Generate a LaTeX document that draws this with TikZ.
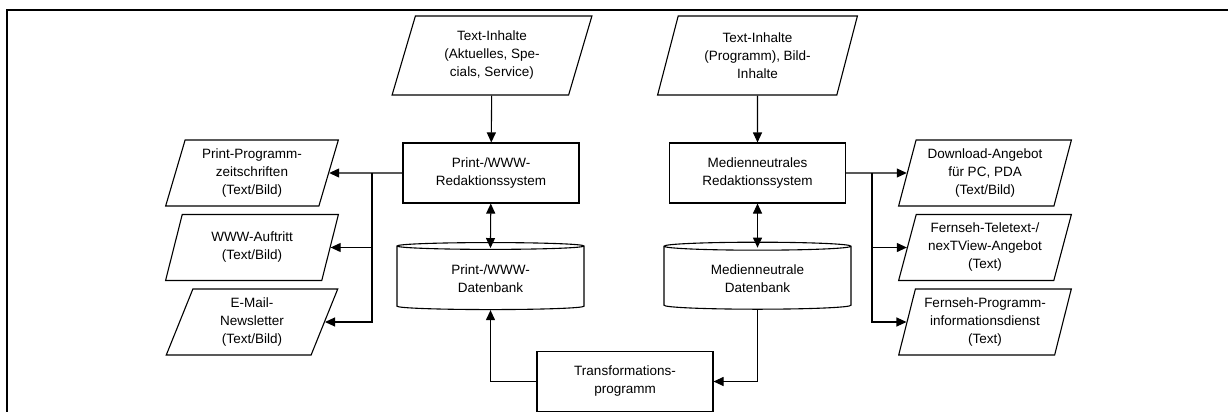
\documentclass[tikz,border=0pt]{standalone}
\usepackage{fontspec}
\setmainfont{Liberation Sans}
\usetikzlibrary{shapes.geometric, arrows.meta}

\begin{document}
\begin{tikzpicture}[x=1pt, y=-1pt, font=\fontsize{13.5}{18}\selectfont]
	\tikzstyle{para} = [trapezium, trapezium left angle=75, trapezium right angle=105, trapezium stretches=true, minimum width=173, minimum height=66, inner xsep=1pt, align=center, draw=black, line width=1.1pt]
	\tikzstyle{source} = [para, minimum width=200, minimum height=79]
	\tikzstyle{rect} = [rectangle, minimum width=176, minimum height=60, align=center, draw=black, line width=1.1pt]
	\tikzstyle{db} = [cylinder, shape border rotate=90, aspect=0.08, minimum width=187, minimum height=67, align=center, draw=black, line width=1.1pt]
	\tikzstyle{arrow} = [line width=1.1pt, ->, >={Triangle[length=10pt, width=9pt]}]

	\useasboundingbox (0,0) rectangle (1228,412);
	\draw[line width=2pt] (7,412) -- (7,10) -- (1228,10);

	% Print-/WWW-Seite
	\node (inL) at (492,55.5) [source] {Text-Inhalte\\(Aktuelles, Spe-\\cials, Service)};
	\node (redL) at (491,173) [rect] {Print-/WWW-\\Redaktionssystem};
	\node (dbL) at (490.5,278.5) [db] {Print-/WWW-\\Datenbank};
	\node (pprog) at (252,173) [para] {Print-Programm-\\zeitschriften\\(Text/Bild)};
	\node (www) at (252,247.5) [para] {WWW-Auftritt\\(Text/Bild)};
	\node (mail) at (252,322) [para] {E-Mail-\\Newsletter\\(Text/Bild)};

	% medienneutrale Seite
	\node (inR) at (757.5,55.5) [source] {Text-Inhalte\\(Programm), Bild-\\Inhalte};
	\node (redR) at (757.5,173) [rect] {Medienneutrales\\Redaktionssystem};
	\node (dbR) at (757.5,278.5) [db] {Medienneutrale\\Datenbank};
	\node (dl) at (985,173) [para] {Download-Angebot\\für PC, PDA\\(Text/Bild)};
	\node (tele) at (985,247.5) [para] {Fernseh-Teletext-/\\nexTView-Angebot\\(Text)};
	\node (epg) at (985,322) [para] {Fernseh-Programm-\\informationsdienst\\(Text)};

	\node (trans) at (625,381.5) [rect] {Transformations-\\programm};

	\coordinate (busL) at (372,173);
	\coordinate (busR) at (872,173);

	\draw [arrow] (inL) -- (redL);
	\draw [arrow, <->, shorten >=-6pt] (redL) -- (dbL.north);
	\draw [arrow] (redL.west) -- (pprog.east);
	\draw [arrow] (busL) |- (www.east);
	\draw [arrow] (busL) |- (mail.east);

	\draw [arrow] (inR) -- (redR);
	\draw [arrow, <->, shorten >=-6pt] (redR) -- (dbR.north);
	\draw [arrow] (redR.east) -- (dl.west);
	\draw [arrow] (busR) |- (tele.west);
	\draw [arrow] (busR) |- (epg.west);

	\draw [arrow] (trans.west) -| (dbL.south);
	\draw [arrow] (dbR.south) |- (trans.east);
	%\draw [dashed, arrow] (dbL) -- (dbR);

\end{tikzpicture}
\end{document}
